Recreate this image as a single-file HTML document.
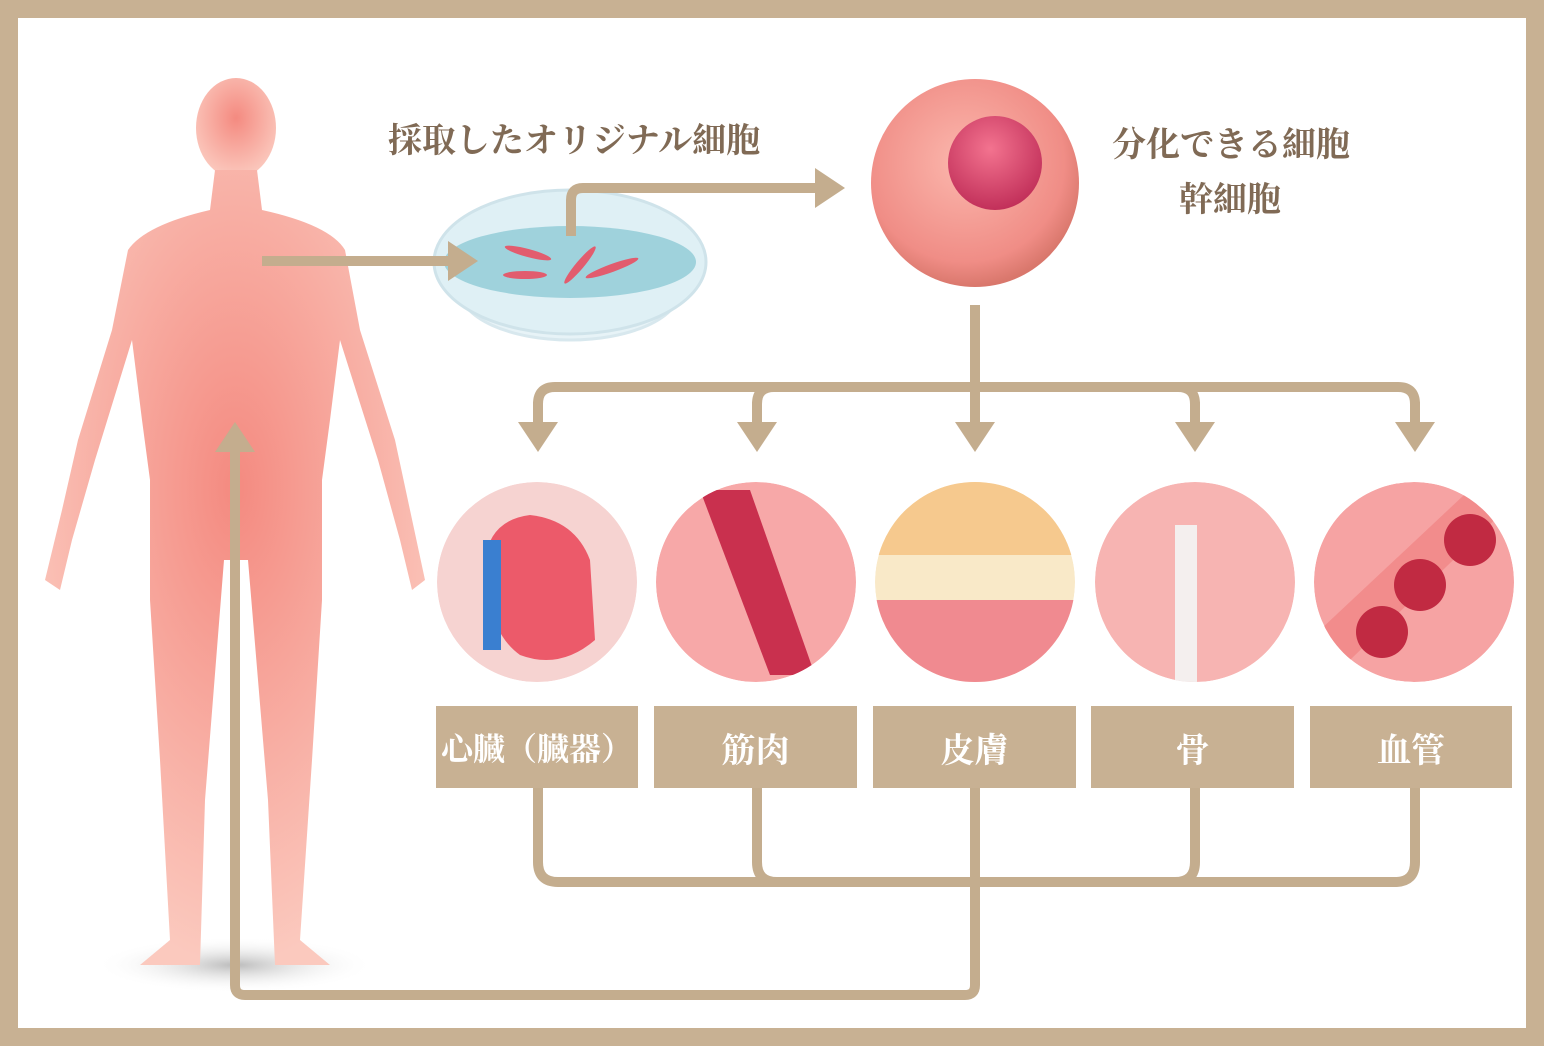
<!DOCTYPE html>
<html><head><meta charset="utf-8"><style>
html,body{margin:0;padding:0;background:#fff}
body{width:1544px;height:1046px;position:relative;overflow:hidden;font-family:"Liberation Serif","Noto Serif CJK SC",serif}
.t{position:absolute;color:#806a55;font-weight:bold;font-size:34px;white-space:nowrap}
.box{position:absolute;top:706px;height:82px;background:#c8b193;color:#fff;font-weight:bold;font-size:34px;display:flex;align-items:center;justify-content:center;white-space:nowrap}
</style></head><body>
<svg width="1544" height="1046" style="position:absolute;left:0;top:0">
<defs>
<radialGradient id="body" cx="50%" cy="40%" r="60%"><stop offset="0" stop-color="#f48a80"/><stop offset="1" stop-color="#fbc9be"/></radialGradient>
<radialGradient id="cell" cx="45%" cy="40%" r="60%"><stop offset="0" stop-color="#fbb7ad"/><stop offset="0.8" stop-color="#f08d86"/><stop offset="1" stop-color="#d9776c"/></radialGradient>
<radialGradient id="nuc" cx="45%" cy="35%" r="65%"><stop offset="0" stop-color="#f3738f"/><stop offset="1" stop-color="#c2305a"/></radialGradient>
<radialGradient id="sh" cx="50%" cy="50%" r="50%"><stop offset="0" stop-color="#bbb"/><stop offset="1" stop-color="#fff" stop-opacity="0"/></radialGradient>
<marker id="ah" markerWidth="4" markerHeight="4" refX="2" refY="2" orient="auto" markerUnits="strokeWidth"><path d="M0,0 L3,2 L0,4 Z" fill="#c4ad8e"/></marker>
<clipPath id="c1"><circle cx="537" cy="582" r="100"/></clipPath>
<clipPath id="c2"><circle cx="756" cy="582" r="100"/></clipPath>
<clipPath id="c3"><circle cx="975" cy="582" r="100"/></clipPath>
<clipPath id="c4"><circle cx="1195" cy="582" r="100"/></clipPath>
<clipPath id="c5"><circle cx="1414" cy="582" r="100"/></clipPath>
</defs>
<rect x="9" y="9" width="1526" height="1028" fill="none" stroke="#c8b193" stroke-width="18"/>
<ellipse cx="235" cy="965" rx="140" ry="28" fill="url(#sh)"/>
<g fill="url(#body)">
<ellipse cx="236" cy="128" rx="40" ry="50"/>
<path d="M215,170 L257,170 L262,210 Q330,225 345,250 L360,330 L395,440 L410,510 L425,580 L412,590 L400,540 L378,460 L340,340 L330,420 L322,480 L322,600 L312,760 L300,940 L330,965 L275,965 L268,800 L248,560 L224,560 L205,800 L200,965 L140,965 L170,940 L160,760 L150,600 L150,480 L142,420 L132,340 L95,460 L72,540 L60,590 L45,580 L62,510 L78,440 L112,330 L128,250 Q145,225 210,210 Z"/>
</g>
<ellipse cx="570" cy="290" rx="110" ry="50" fill="#e7f3f7" stroke="#d8e8ee" stroke-width="3"/>
<ellipse cx="570" cy="262" rx="136" ry="72" fill="#dff0f5" stroke="#cfe3ea" stroke-width="3"/>
<ellipse cx="570" cy="262" rx="126" ry="36" fill="#9fd2dc"/>
<g fill="#e25c6e"><ellipse cx="528" cy="253" rx="24" ry="4" transform="rotate(15 528 253)"/><ellipse cx="580" cy="265" rx="24" ry="4" transform="rotate(-50 580 265)"/><ellipse cx="612" cy="268" rx="28" ry="4" transform="rotate(-20 612 268)"/><ellipse cx="525" cy="275" rx="22" ry="4"/></g>
<g fill="none" stroke="#c4ad8e" stroke-width="10">
<path d="M262,261 H468" marker-end="url(#ah)"/>
<path d="M571,236 V200 Q571,188 583,188 H835" marker-end="url(#ah)"/>
<path d="M975,305 V386"/>
<path d="M538,404 Q538,387 555,387 H1398 Q1415,387 1415,404"/>
<path d="M757,404 Q757,387 774,387 M1178,387 Q1195,387 1195,404"/>
<path d="M538,402 V442" marker-end="url(#ah)"/>
<path d="M757,402 V442" marker-end="url(#ah)"/>
<path d="M975,386 V442" marker-end="url(#ah)"/>
<path d="M1195,402 V442" marker-end="url(#ah)"/>
<path d="M1415,402 V442" marker-end="url(#ah)"/>
<path d="M538,788 V862 Q538,882 558,882 H1395 Q1415,882 1415,862 V788"/>
<path d="M757,788 V862 Q757,882 777,882"/>
<path d="M1195,788 V862 Q1195,882 1175,882"/>
<path d="M975,788 V985 Q975,995 965,995 H245 Q235,995 235,985 V432" marker-end="url(#ah)"/>
</g>
<circle cx="975" cy="183" r="104" fill="url(#cell)"/>
<circle cx="995" cy="163" r="47" fill="url(#nuc)"/>
<g clip-path="url(#c1)">
<circle cx="537" cy="582" r="100" fill="#f6d3d1"/>
<path d="M485,560 Q490,520 530,515 Q575,520 590,560 L595,640 Q560,670 520,655 Q485,630 485,560Z" fill="#ec5a6a"/>
<rect x="483" y="540" width="18" height="110" fill="#3a7fd0"/>
</g>
<g clip-path="url(#c2)">
<circle cx="756" cy="582" r="100" fill="#f7a8a8"/>
<path d="M700,490 L750,490 L815,675 L770,675 Z" fill="#c9304e"/>
</g>
<g clip-path="url(#c3)">
<circle cx="975" cy="582" r="100" fill="#f9e9c8"/>
<rect x="870" y="480" width="210" height="75" fill="#f6c98e"/>
<rect x="870" y="600" width="210" height="90" fill="#f08a90"/>
</g>
<g clip-path="url(#c4)">
<circle cx="1195" cy="582" r="100" fill="#f7b4b2"/>
<rect x="1175" y="525" width="22" height="160" fill="#f4efee"/>
</g>
<g clip-path="url(#c5)">
<circle cx="1414" cy="582" r="100" fill="#f6a3a3"/>
<path d="M1320,630 L1480,480 L1510,505 L1350,660Z" fill="#f28c8c"/>
<g fill="#c12a42"><circle cx="1470" cy="540" r="26"/><circle cx="1420" cy="585" r="26"/><circle cx="1382" cy="632" r="26"/></g>
</g>
</svg>
<div class="t" style="left:388px;top:113px">採取したオリジナル細胞</div>
<div class="t" style="left:1112px;top:117px">分化できる細胞</div>
<div class="t" style="left:1179px;top:172px">幹細胞</div>
<div class="box" style="left:436px;width:202px;font-size:32px">心臓（臓器）</div>
<div class="box" style="left:654px;width:203px">筋肉</div>
<div class="box" style="left:873px;width:203px">皮膚</div>
<div class="box" style="left:1091px;width:203px">骨</div>
<div class="box" style="left:1310px;width:202px">血管</div>
</body></html>
